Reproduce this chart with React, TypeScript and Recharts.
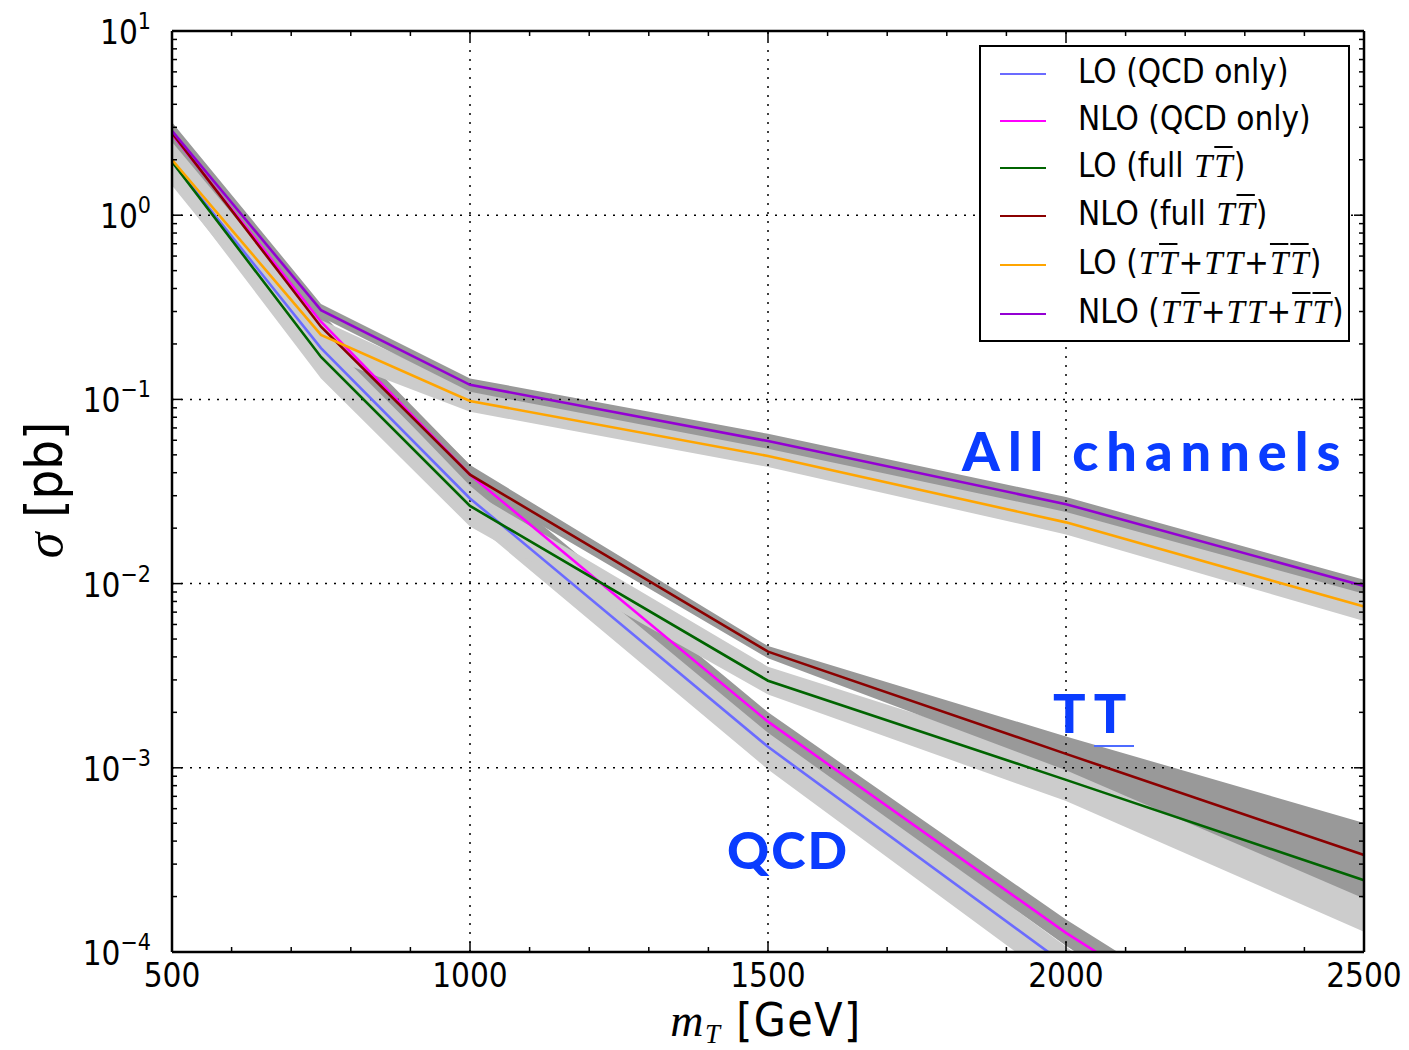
import type { ReactNode } from "react";
import { ComposedChart, Line, Area, XAxis, YAxis, ReferenceLine } from "recharts";

// top-quark-partner pair production, sigma in pb vs m_T in GeV
const masses = [500, 750, 1000, 1500, 2000, 2500];

const loQcd = [1.95, 0.19, 0.029, 0.0013, 0.000085, 0.000005];
const loQcdLow = [1.45, 0.145, 0.0222, 0.00098, 0.000063, 0.0000036];
const loQcdHigh = [2.45, 0.235, 0.0355, 0.00162, 0.000107, 0.0000064];

const nloQcd = [2.75, 0.264, 0.039, 0.00178, 0.000127, 0.000012];
const nloQcdLow = [2.45, 0.235, 0.034, 0.00155, 0.000108, 0.00001];
const nloQcdHigh = [3.1, 0.295, 0.044, 0.002, 0.00015, 0.0000145];

const loFull = [1.95, 0.17, 0.0264, 0.00297, 0.00086, 0.000245];
const loFullLow = [1.5, 0.13, 0.0204, 0.0025, 0.00066, 0.000129];
const loFullHigh = [2.45, 0.21, 0.032, 0.00354, 0.00108, 0.00031];

const nloFull = [2.8, 0.248, 0.039, 0.00427, 0.00119, 0.000336];
const nloFullLow = [2.55, 0.225, 0.035, 0.00393, 0.00097, 0.000195];
const nloFullHigh = [3.1, 0.275, 0.044, 0.00458, 0.00148, 0.000501];

const loAll = [2.0, 0.224, 0.098, 0.0493, 0.0215, 0.0075];
const loAllLow = [1.5, 0.175, 0.0857, 0.043, 0.0185, 0.00627];
const loAllHigh = [2.5, 0.27, 0.115, 0.057, 0.025, 0.0092];

const nloAll = [2.87, 0.305, 0.12, 0.0594, 0.027, 0.0097];
const nloAllLow = [2.6, 0.28, 0.11, 0.054, 0.0245, 0.0088];
const nloAllHigh = [3.2, 0.33, 0.13, 0.065, 0.0295, 0.0105];

const xMajorTicks = [500, 1000, 1500, 2000, 2500];
const xMinorTicks = [600, 700, 800, 900, 1100, 1200, 1300, 1400, 1600, 1700, 1800, 1900, 2100, 2200, 2300, 2400];
const yMajorTicks = [1e-4, 1e-3, 1e-2, 1e-1, 1, 10];
const yMajorExp = ["\u22124", "\u22123", "\u22122", "\u22121", "0", "1"];
const yMinorFactors = [2, 3, 4, 5, 6, 7, 8, 9];
const xGrid = [1000, 1500, 2000];
const yGrid = [1e-3, 1e-2, 1e-1, 1];

const xTicks = [...xMajorTicks, ...xMinorTicks];
const yTicks = [...yMajorTicks, ...yMajorTicks.slice(0, -1).flatMap((d) => yMinorFactors.map((f) => f * d))];

const LIGHT = "#cccccc";
const DARK = "#999999";

const series = [
  { key: "loQcd", color: "#6b6bff", band: LIGHT, values: loQcd, low: loQcdLow, high: loQcdHigh },
  { key: "nloQcd", color: "#ff00ff", band: DARK, values: nloQcd, low: nloQcdLow, high: nloQcdHigh },
  { key: "loFull", color: "#006400", band: LIGHT, values: loFull, low: loFullLow, high: loFullHigh },
  { key: "nloFull", color: "#8b0000", band: DARK, values: nloFull, low: nloFullLow, high: nloFullHigh },
  { key: "loAll", color: "#ffa500", band: LIGHT, values: loAll, low: loAllLow, high: loAllHigh },
  { key: "nloAll", color: "#9400d3", band: DARK, values: nloAll, low: nloAllLow, high: nloAllHigh },
];

const data = masses.map((m, i) => {
  const row: Record<string, unknown> = { m };
  series.forEach((s) => {
    row[s.key] = s.values[i];
    row[s.key + "Band"] = [s.low[i], s.high[i]];
  });
  return row;
});

const SANS = "'DejaVu Sans Condensed', 'DejaVu Sans', sans-serif";
const SERIF = "'Liberation Serif', 'DejaVu Serif', serif";
const frame = { stroke: "#000", strokeWidth: 2.5 };

// ticks point into the plot; labels only on the bottom / left majors
const renderXTick = (bottom: boolean) => (p: any) => {
  const { x, y, payload } = p;
  const v = payload.value as number;
  const major = xMajorTicks.includes(v);
  const len = major ? 10 : 5;
  const dir = bottom ? -1 : 1;
  return (
    <g>
      <line x1={x} x2={x} y1={y} y2={y + dir * len} stroke="#000" strokeWidth={1.5} />
      {bottom && major && (
        <text x={x} y={y + 35} textAnchor="middle" fontFamily={SANS} fontSize={33} fill="#000">
          {v}
        </text>
      )}
    </g>
  );
};

const renderYTick = (left: boolean) => (p: any) => {
  const { x, y, payload } = p;
  const v = payload.value as number;
  const idx = yMajorTicks.indexOf(v);
  const major = idx >= 0;
  const len = major ? 10 : 5;
  const dir = left ? 1 : -1;
  return (
    <g>
      <line x1={x} x2={x + dir * len} y1={y} y2={y} stroke="#000" strokeWidth={1.5} />
      {left && major && (
        <text x={x - 21} y={y + 13} textAnchor="end" fontFamily={SANS} fontSize={33} fill="#000">
          <tspan>10</tspan>
          <tspan dy={-15} fontSize={23}>
            {yMajorExp[idx]}
          </tspan>
        </text>
      )}
    </g>
  );
};

const T = () => <i style={{ fontFamily: SERIF, margin: "0 1px" }}>T</i>;
const Tb = () => (
  <i style={{ fontFamily: SERIF, margin: "0 1px", textDecoration: "overline", textDecorationThickness: 2 }}>T</i>
);

const legendLabels: ReactNode[] = [
  <>LO (QCD only)</>,
  <>NLO (QCD only)</>,
  <>
    LO (full <T />
    <Tb />)
  </>,
  <>
    NLO (full <T />
    <Tb />)
  </>,
  <>
    LO (<T />
    <Tb />+<T />
    <T />+<Tb />
    <Tb />)
  </>,
  <>
    NLO (<T />
    <Tb />+<T />
    <T />+<Tb />
    <Tb />)
  </>,
];
const legendRowY = [72, 119, 166, 214, 263, 312];

function LegendBox() {
  return (
    <div
      style={{
        position: "absolute",
        left: 979,
        top: 45,
        width: 371,
        height: 297,
        border: "2.5px solid #000",
        boxSizing: "border-box",
        background: "#fff",
      }}
    >
      {series.map((s, i) => (
        <div key={s.key}>
          <div
            style={{
              position: "absolute",
              left: 19,
              top: legendRowY[i] - 45 - 1.5,
              width: 46,
              height: 2.5,
              background: s.color,
            }}
          />
          <div
            style={{
              position: "absolute",
              left: 97,
              top: legendRowY[i] - 45 - 22,
              fontFamily: SANS,
              fontSize: 33,
              lineHeight: "40px",
              whiteSpace: "nowrap",
              color: "#000",
            }}
          >
            {legendLabels[i]}
          </div>
        </div>
      ))}
    </div>
  );
}

const noteStyle = {
  position: "absolute" as const,
  fontFamily: "Lato, 'Noto Sans', sans-serif",
  fontWeight: 900,
  color: "#0a3cff",
  whiteSpace: "nowrap" as const,
  lineHeight: 1,
};

export default function App() {
  return (
    <div style={{ position: "absolute", left: 0, top: 0, width: 1409, height: 1050, background: "#fff" }}>
      <ComposedChart width={1409} height={1050} data={data} margin={{ top: 30, right: 44, bottom: 38, left: 72 }}>
        <XAxis
          xAxisId="b"
          dataKey="m"
          type="number"
          domain={[500, 2500]}
          ticks={xTicks}
          interval={0}
          height={60}
          tickSize={0}
          tickMargin={0}
          tickLine={false}
          axisLine={frame}
          tick={renderXTick(true)}
        />
        <XAxis
          xAxisId="t"
          orientation="top"
          dataKey="m"
          type="number"
          domain={[500, 2500]}
          ticks={xTicks}
          interval={0}
          height={1}
          tickSize={0}
          tickMargin={0}
          tickLine={false}
          axisLine={frame}
          tick={renderXTick(false)}
        />
        <YAxis
          yAxisId="l"
          type="number"
          scale="log"
          domain={[1e-4, 10]}
          allowDataOverflow
          ticks={yTicks}
          interval={0}
          width={100}
          tickSize={0}
          tickMargin={0}
          tickLine={false}
          axisLine={frame}
          tick={renderYTick(true)}
        />
        <YAxis
          yAxisId="r"
          orientation="right"
          type="number"
          scale="log"
          domain={[1e-4, 10]}
          allowDataOverflow
          ticks={yTicks}
          interval={0}
          width={1}
          tickSize={0}
          tickMargin={0}
          tickLine={false}
          axisLine={frame}
          tick={renderYTick(false)}
        />
        {series.map((s) => (
          <Area
            key={s.key + "Band"}
            xAxisId="b"
            yAxisId="l"
            type="linear"
            dataKey={s.key + "Band"}
            stroke="none"
            fill={s.band}
            fillOpacity={1}
            dot={false}
            activeDot={false}
            isAnimationActive={false}
          />
        ))}
        {xGrid.map((v) => (
          <ReferenceLine key={"gx" + v} xAxisId="b" yAxisId="l" x={v} stroke="#000" strokeWidth={1.5} strokeDasharray="2 7" />
        ))}
        {yGrid.map((v) => (
          <ReferenceLine key={"gy" + v} xAxisId="b" yAxisId="l" y={v} stroke="#000" strokeWidth={1.5} strokeDasharray="2 7" />
        ))}
        {series.map((s) => (
          <Line
            key={s.key}
            xAxisId="b"
            yAxisId="l"
            type="linear"
            dataKey={s.key}
            stroke={s.color}
            strokeWidth={2.6}
            dot={false}
            activeDot={false}
            isAnimationActive={false}
          />
        ))}
      </ComposedChart>

      <LegendBox />

      <div style={{ ...noteStyle, left: 962, top: 424, fontSize: 54, letterSpacing: 8 }}>All channels</div>
      <div style={{ ...noteStyle, left: 1053, top: 686, fontSize: 54, letterSpacing: 8 }}>
        T<span style={{ borderBottom: "2px solid #4d6bff" }}>T</span>
      </div>
      <div style={{ ...noteStyle, left: 727, top: 823, fontSize: 52, letterSpacing: 2 }}>QCD</div>

      <div
        style={{
          position: "absolute",
          left: 44,
          top: 490,
          transform: "translate(-50%, -50%) rotate(-90deg)",
          fontFamily: SANS,
          fontSize: 52,
          whiteSpace: "nowrap",
          color: "#000",
        }}
      >
        <i style={{ fontFamily: SERIF }}>σ</i> [pb]
      </div>
      <div
        style={{
          position: "absolute",
          left: 766,
          top: 1023,
          transform: "translate(-50%, -50%)",
          fontFamily: SANS,
          fontSize: 46,
          lineHeight: "36px",
          letterSpacing: 1.5,
          whiteSpace: "nowrap",
          color: "#000",
        }}
      >
        <i style={{ fontFamily: SERIF }}>m</i>
        <span style={{ fontSize: 27, position: "relative", top: 7 }}>
          <i style={{ fontFamily: SERIF }}>T</i>
        </span>{" "}
        [GeV]
      </div>
    </div>
  );
}
